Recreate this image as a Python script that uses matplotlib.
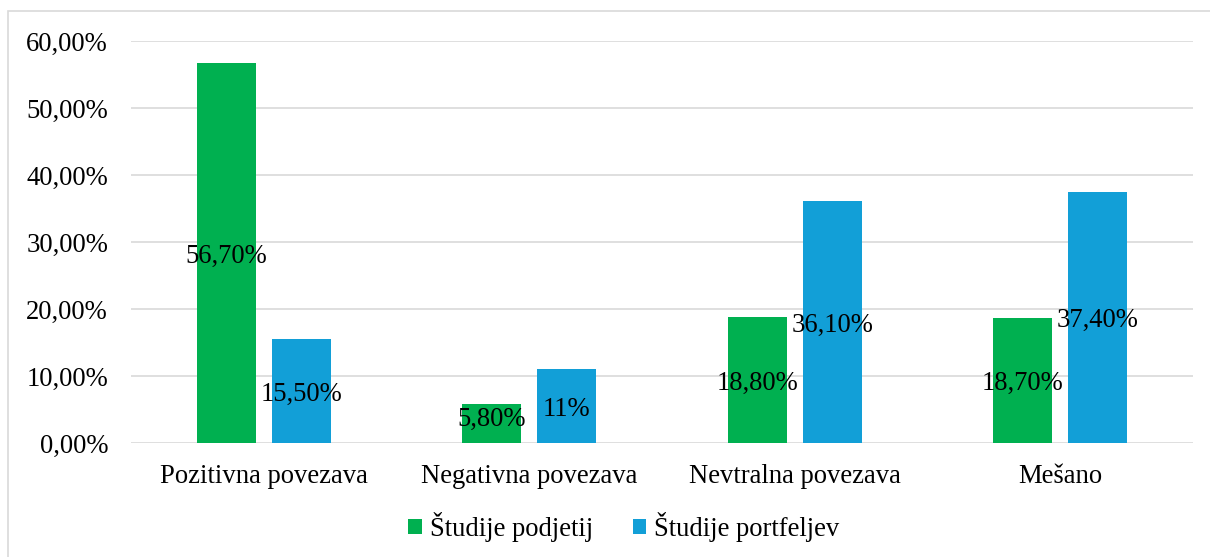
import matplotlib
matplotlib.use("Agg")
import matplotlib.pyplot as plt
from matplotlib import font_manager
from matplotlib.patches import Rectangle
import numpy as np

categories = ["Pozitivna povezava", "Negativna povezava", "Nevtralna povezava", "Mešano"]
podjetja = [56.70, 5.80, 18.80, 18.70]
portfelji = [15.50, 11.00, 36.10, 37.40]
label_podjetja = ["56,70%", "5,80%", "18,80%", "18,70%"]
label_portfelji = ["15,50%", "11%", "36,10%", "37,40%"]
yticks = [0, 10, 20, 30, 40, 50, 60]
series_names = ["Študije podjetij", "Študije portfeljev"]

GREEN = "#00B050"
BLUE = "#129FD7"
GRID = "#D9D9D9"

names = {f.name for f in font_manager.fontManager.ttflist}
serif = [n for n in ["Liberation Serif", "Times New Roman", "DejaVu Serif"] if n in names]
plt.rcParams["font.family"] = "serif"
plt.rcParams["font.serif"] = serif
FS = 19.2

fig = plt.figure(figsize=(12.10, 5.57), dpi=100)
fig.patch.set_facecolor("white")
# outer chart frame
fig.patches.append(Rectangle((8 / 1210, -0.05), 1.1, 1 - 11 / 557 + 0.05,
                             transform=fig.transFigure, fill=False,
                             edgecolor="#D9D9D9", linewidth=1.2))

ax = fig.add_axes([131 / 1210, 1 - 443 / 557, (1193 - 131) / 1210, (443 - 41) / 557])
x = np.arange(len(categories))
w = 0.222
off = 0.141
b1 = ax.bar(x - off, podjetja, w, color=GREEN, zorder=3, label=series_names[0])
b2 = ax.bar(x + off, portfelji, w, color=BLUE, zorder=3, label=series_names[1])

# value labels sit in the middle of each bar (kept clear of the baseline)
for xi, v, t in zip(x - off, podjetja, label_podjetja):
    ax.text(xi, max(v / 2, 4.0), t, ha="center", va="center_baseline", fontsize=FS, zorder=4)
for xi, v, t in zip(x + off, portfelji, label_portfelji):
    ax.text(xi, max(v / 2, 4.0), t, ha="center", va="center_baseline", fontsize=FS, zorder=4)

ax.set_xlim(-0.5, len(categories) - 0.5)
ax.set_ylim(0, 60)
ax.set_yticks(yticks)
ax.set_yticklabels([f"{t:.2f}".replace(".", ",") + "%" for t in yticks], fontsize=FS)
ax.set_xticks(x)
ax.set_xticklabels(categories, fontsize=FS)
ax.tick_params(axis="both", length=0)
ax.tick_params(axis="y", pad=16.5)
ax.tick_params(axis="x", pad=15)
ax.grid(axis="y", color=GRID, linewidth=1.2, zorder=0)
for s in ax.spines.values():
    s.set_visible(False)

leg = fig.legend(handles=[b1, b2], labels=series_names, loc="center",
                 bbox_to_anchor=(624 / 1210, 1 - 527 / 557), ncol=2, frameon=False,
                 fontsize=FS, handlelength=0.5, handleheight=0.5, handletextpad=0.3,
                 columnspacing=1.5)

fig.savefig("out.png", dpi=100)
